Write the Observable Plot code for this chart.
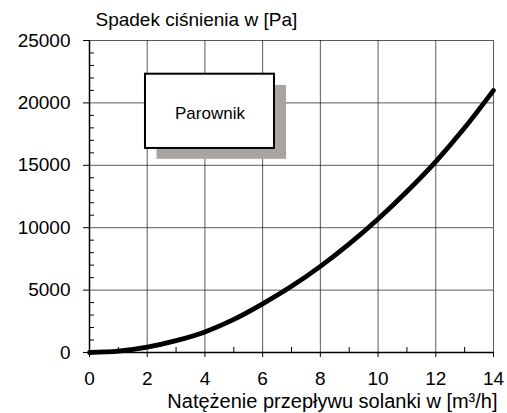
<!DOCTYPE html>
<html>
<head>
<meta charset="utf-8">
<script src="https://cdn.jsdelivr.net/npm/d3@7"></script>
<script src="https://cdn.jsdelivr.net/npm/@observablehq/plot@0.6"></script>
<style>
  html, body { margin: 0; padding: 0; background: #fff; }
  svg { display: block; }
</style>
</head>
<body>
<div id="chart"></div>
<script>
// Data
const flow = [0, 1, 2, 3, 4, 5, 6, 7, 8, 9, 10, 11, 12, 13, 14]; // m³/h
const pressure = [0, 110, 430, 950, 1650, 2650, 3900, 5300, 6900, 8700, 10700, 12900, 15300, 18000, 21000]; // Pa
const xTicks = [0, 2, 4, 6, 8, 10, 12, 14];
const xMinorTicks = [1, 3, 5, 7, 9, 11, 13];
const yTicks = [0, 5000, 10000, 15000, 20000, 25000];
const yMinorTicks = [1000, 2000, 3000, 4000, 6000, 7000, 8000, 9000, 11000, 12000, 13000, 14000,
                     16000, 17000, 18000, 19000, 21000, 22000, 23000, 24000];
const titleText = "Spadek ciśnienia w [Pa]";
const xLabelText = "Natężenie przepływu solanki w [m³/h]";
const boxLabel = ["Parownik"];
// annotation box (data units) and its shadow
const box = [{x1: 1.94, x2: 6.41, y1: 16350, y2: 22300}];
const shadow = [{x1: 2.34, x2: 6.83, y1: 15480, y2: 21400}];

const curve = flow.map((x, i) => ({x, y: pressure[i]}));

const font = "'Liberation Sans', Arial, sans-serif";

const plot = Plot.plot({
  width: 507,
  height: 413,
  marginLeft: 89,
  marginRight: 14,
  marginTop: 40,
  marginBottom: 61,
  style: {fontFamily: font, fontSize: "19px", color: "#000", background: "#fff"},
  x: {domain: [0, 14]},
  y: {domain: [0, 25000]},
  marks: [
    Plot.gridX(xTicks, {stroke: "#000", strokeOpacity: 0.65, strokeWidth: 1}),
    Plot.gridY(yTicks, {stroke: "#000", strokeOpacity: 0.65, strokeWidth: 1}),
    Plot.rect(shadow, {x1: "x1", x2: "x2", y1: "y1", y2: "y2", fill: "#a8a4a0"}),
    Plot.rect(box, {x1: "x1", x2: "x2", y1: "y1", y2: "y2", fill: "#fff", stroke: "#000", strokeWidth: 2}),
    Plot.text(box, {x: d => (d.x1 + d.x2) / 2, y: d => (d.y1 + d.y2) / 2, text: () => boxLabel[0], fontSize: 17, dy: 2, fill: "#000"}),
    Plot.ruleY([0], {stroke: "#000", strokeWidth: 1.5}),
    Plot.ruleX([0], {stroke: "#000", strokeWidth: 1.5}),
    Plot.axisX({ticks: xTicks, tickSize: 5, tickPadding: 14, tickFormat: d => String(d), label: null, fontSize: 19}),
    Plot.axisX({ticks: xMinorTicks, tickSize: 5, dy: -5, text: null, label: null}),
    Plot.axisY({ticks: yTicks, tickSize: 6, tickPadding: 13, tickFormat: d => String(d), label: null, fontSize: 19}),
    Plot.axisY({ticks: yMinorTicks, tickSize: 5, dx: 5, text: null, label: null}),
    Plot.line(curve, {x: "x", y: "y", curve: "monotone-x", stroke: "#000", strokeWidth: 4.8}),
    Plot.text([titleText], {frameAnchor: "top-left", text: d => d, textAnchor: "start", lineAnchor: "top", dx: 6, dy: -28, fontSize: 19, fill: "#000"}),
    Plot.text([xLabelText], {frameAnchor: "bottom-right", text: d => d, textAnchor: "end", lineAnchor: "bottom", dx: 4, dy: 55, fontSize: 20, fill: "#000"})
  ]
});
document.getElementById("chart").appendChild(plot);
</script>
</body>
</html>
